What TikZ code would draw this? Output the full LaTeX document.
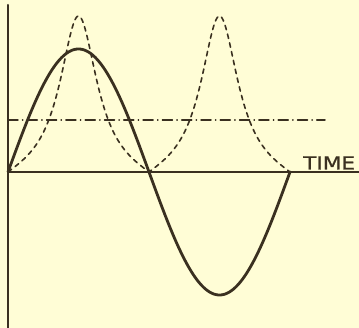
\documentclass[tikz,border=0pt]{standalone}
\usepackage{fontspec}
\newfontfamily\labelfont[FakeBold=0.8]{DejaVu Sans}
\definecolor{ink}{RGB}{58,48,32}
\definecolor{paper}{RGB}{255,253,214}
\begin{document}
\begin{tikzpicture}[x=1pt,y=1pt,line join=round,line cap=round,
	axis/.style={ink,line width=2pt},
	current/.style={ink,line width=2.8pt,smooth,samples=300,domain=0:282},
	power/.style={ink,line width=1.6pt,dash pattern=on 4.5pt off 4.5pt,smooth,samples=300,domain=0:282},
	mean/.style={ink,line width=1.5pt,dash pattern=on 10pt off 4.5pt on 0.3pt off 4.5pt}]
	\fill[paper] (-8,-156) rectangle (351,172);
	\useasboundingbox (-8,-156) rectangle (351,172);
	\coordinate (O) at (0,0);
	\coordinate (T) at (0,167);
	\coordinate (B) at (0,-156);
	\coordinate (E) at (351,0);
	\coordinate (M0) at (0,52);
	\coordinate (M1) at (317,52);
	\draw[axis] (B)--(T);
	\draw[axis] (O)--(E);
	\draw[mean] (M0)--(M1);
	\draw[power] plot(\x,{156*abs(sin(\x/141*180))/(1+3.6*cos(\x/141*180)^2)});
	\draw[current] plot(\x,{123*sin(\x/141*180)});
	\node[anchor=base west,font=\labelfont\fontsize{18}{18}\selectfont,text=ink,inner sep=0pt,xscale=1.2] (time) at (295,2.5) {TIME};
\end{tikzpicture}
\end{document}
